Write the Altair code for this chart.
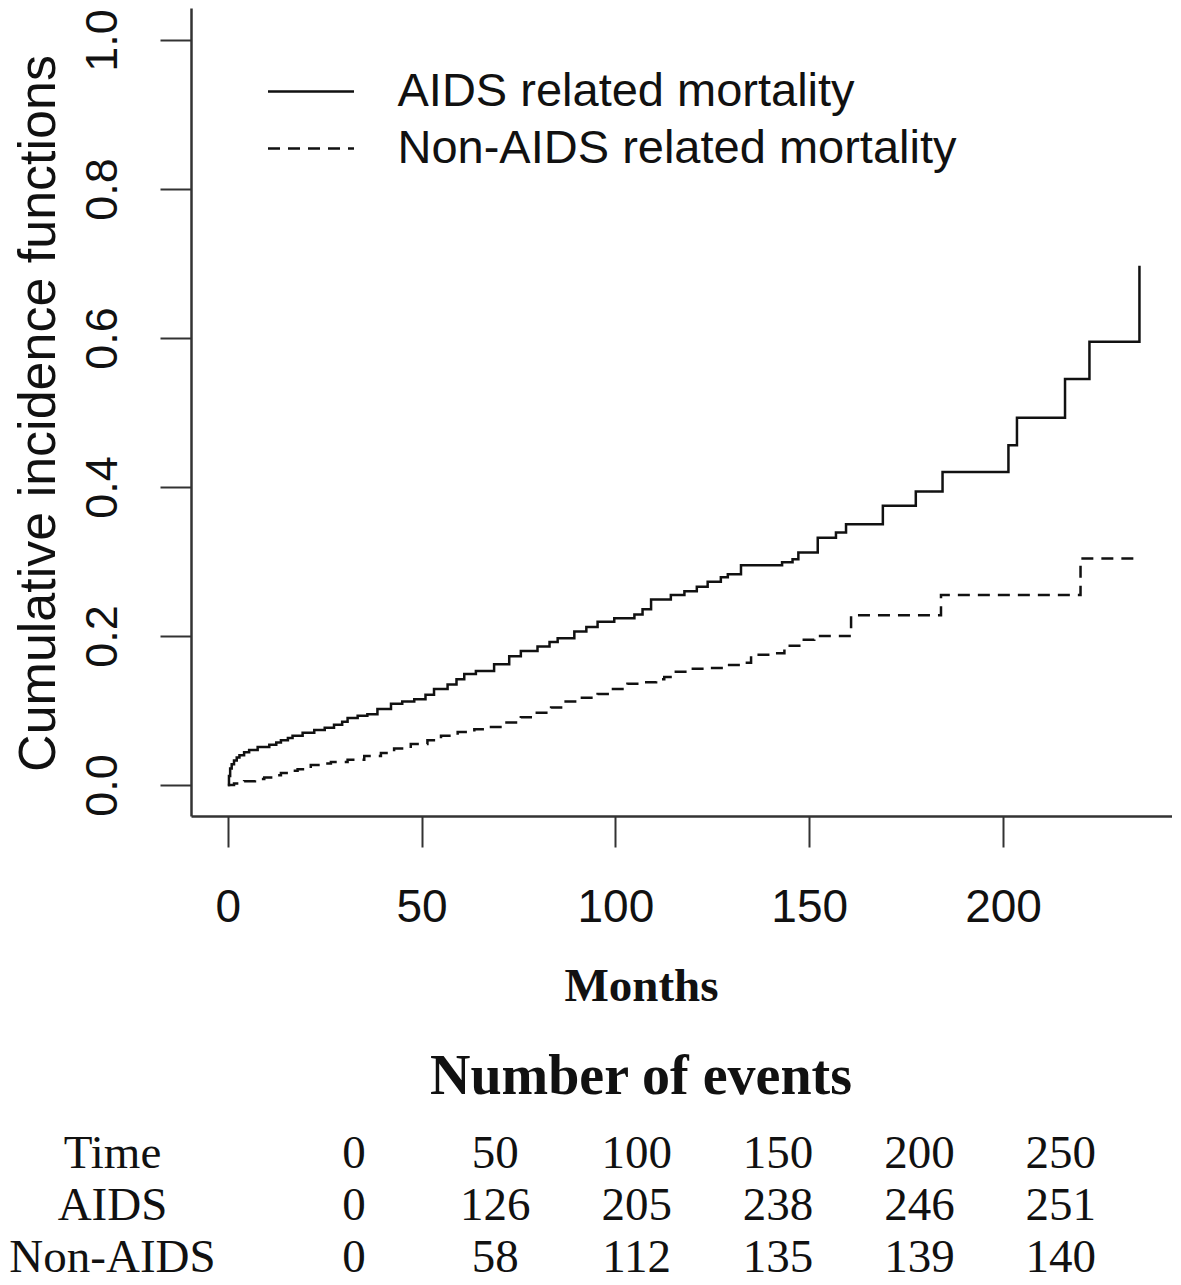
import altair as alt
import pandas as pd

# ---- data ----
series_names = ["AIDS related mortality", "Non-AIDS related mortality"]

aids_time = [0, 0.3, 0.6, 1.0, 1.6, 2.3, 3.0, 4.2, 5.5, 7.7,
             10.7, 12.5, 13.7, 15.5, 16.7, 19.3, 22.3, 25.0, 27.4, 29.5,
             30.9, 33.5, 36.0, 38.6, 42.1, 45.0, 48.1, 51.0, 53.2, 56.7,
             59.0, 61.0, 64.0, 68.7, 72.6, 75.6, 79.9, 83.0, 85.1, 89.4,
             92.5, 95.4, 99.7, 104.9, 107.0, 109.2, 114.3, 117.8, 121.0, 123.8,
             127.2, 129.0, 132.4, 143.0, 145.7, 147.2, 152.2, 156.9, 159.5, 169.0,
             177.5, 184.4, 201.4, 203.6, 216.0, 222.3, 235.2]
aids_cif = [0, 0.012, 0.022, 0.028, 0.033, 0.037, 0.040, 0.044, 0.047, 0.051,
            0.054, 0.057, 0.060, 0.063, 0.066, 0.070, 0.074, 0.077, 0.081, 0.085,
            0.090, 0.093, 0.095, 0.102, 0.109, 0.112, 0.115, 0.121, 0.129, 0.135,
            0.142, 0.149, 0.153, 0.162, 0.173, 0.180, 0.186, 0.192, 0.197, 0.206,
            0.212, 0.219, 0.224, 0.229, 0.236, 0.249, 0.255, 0.260, 0.266, 0.273,
            0.279, 0.283, 0.295, 0.299, 0.303, 0.312, 0.332, 0.339, 0.350, 0.375,
            0.394, 0.420, 0.456, 0.493, 0.545, 0.595, 0.697]

non_time = [0, 1.6, 4.2, 7.0, 9.4, 11.5, 13.7, 16.0, 18.0, 21.4,
            24.0, 26.6, 30.9, 35.2, 39.5, 42.9, 47.2, 51.5, 55.0, 59.3,
            63.6, 67.9, 71.3, 75.6, 79.0, 83.4, 86.8, 91.0, 95.4, 99.0,
            103.1, 107.4, 110.5, 112.6, 115.2, 119.5, 124.6, 128.9, 133.0, 135.0,
            141.0, 143.6, 147.9, 151.3, 160.8, 184.0, 220.0, 235.6]
non_cif = [0, 0.002, 0.005, 0.008, 0.010, 0.013, 0.016, 0.019, 0.021, 0.027,
           0.029, 0.031, 0.034, 0.039, 0.043, 0.049, 0.055, 0.060, 0.066, 0.071,
           0.075, 0.078, 0.084, 0.091, 0.097, 0.104, 0.112, 0.117, 0.122, 0.129,
           0.136, 0.138, 0.142, 0.145, 0.152, 0.156, 0.157, 0.161, 0.164, 0.175,
           0.177, 0.187, 0.195, 0.200, 0.228, 0.255, 0.304, 0.304]

x_ticks = [0, 50, 100, 150, 200]
y_ticks = [0.0, 0.2, 0.4, 0.6, 0.8, 1.0]

table_rows = ["Time", "AIDS", "Non-AIDS"]
time_points = [0, 50, 100, 150, 200, 250]
aids_events = [0, 126, 205, 238, 246, 251]
non_events = [0, 58, 112, 135, 139, 140]

# ---- tables for the library ----
curve_df = pd.DataFrame({
    "month": aids_time + non_time,
    "cif": aids_cif + non_cif,
    "series": [series_names[0]] * len(aids_time) + [series_names[1]] * len(non_time),
    "order": list(range(len(aids_time))) + list(range(len(non_time))),
})

cells = []
for r, vals in zip(table_rows, [time_points, aids_events, non_events]):
    for t, v in zip(time_points, vals):
        cells.append({"row": r, "time": t, "text": str(v)})
table_df = pd.DataFrame(cells)

SANS = "Liberation Sans"
SERIF = "Liberation Serif"
INK = "#111111"
AXIS = "#333333"

W = 981
H = 808

curves = alt.Chart(curve_df).mark_line(
    interpolate="step-after", strokeWidth=2.5, color=INK, strokeCap="butt"
).encode(
    x=alt.X("month:Q",
            scale=alt.Scale(domain=[-9.5, 243.6], nice=False, zero=False),
            axis=alt.Axis(values=x_ticks, title="Months", grid=False,
                          labelFont=SANS, labelFontSize=46, labelColor=INK,
                          labelPadding=38, labelFlush=False, labelOverlap=False,
                          tickSize=31, tickWidth=2, tickColor=AXIS,
                          domainColor=AXIS, domainWidth=2.5,
                          titleFont=SERIF, titleFontWeight="bold", titleFontSize=47,
                          titleColor=INK, titleX=450, titleY=184,
                          titleAlign="center", titleBaseline="alphabetic")),
    y=alt.Y("cif:Q",
            scale=alt.Scale(domain=[-0.0416, 1.043], nice=False, zero=False),
            axis=alt.Axis(values=y_ticks, format=".1f",
                          title="Cumulative incidence functions", grid=False,
                          labelAngle=270, labelAlign="center", labelBaseline="bottom",
                          labelFont=SANS, labelFontSize=45, labelColor=INK,
                          labelPadding=34.5, labelFlush=False, labelOverlap=False,
                          tickSize=31, tickWidth=2, tickColor=AXIS,
                          domainColor=AXIS, domainWidth=2.5,
                          titleAngle=270, titleX=-137, titleY=405,
                          titleAlign="center", titleBaseline="alphabetic",
                          titleFont=SANS, titleFontSize=52, titleFontWeight="normal",
                          titleColor=INK)),
    strokeDash=alt.StrokeDash(
        "series:N",
        scale=alt.Scale(domain=series_names, range=[[1, 0], [12, 8]]),
        legend=alt.Legend(title=None, orient="none", legendX=86, legendY=49.5,
                          symbolType="M-1.323,0H1.323", symbolSize=4225,
                          symbolStrokeWidth=2.5, symbolStrokeColor=INK,
                          symbolFillColor="transparent",
                          labelFont=SANS, labelFontSize=47, labelColor=INK,
                          labelOffset=52.5, labelLimit=0, rowPadding=0,
                          padding=0, offset=0, direction="vertical")),
    order="order:Q",
).properties(width=W, height=H)

table = alt.Chart(table_df).mark_text(
    font=SERIF, fontSize=47, color=INK, align="center", baseline="middle"
).encode(
    x=alt.X("time:Q", scale=alt.Scale(domain=[-57.6, 289.3], nice=False, zero=False),
            axis=None),
    y=alt.Y("row:N", sort=table_rows,
            scale=alt.Scale(type="point", padding=0.5),
            axis=alt.Axis(title=None, domain=False, ticks=False, grid=False,
                          labelFont=SERIF, labelFontSize=47, labelColor=INK,
                          labelAlign="center", labelBaseline="middle",
                          labelPadding=79, labelLimit=0)),
    text="text:N",
).properties(
    width=W, height=156,
    title=alt.TitleParams("Number of events", font=SERIF, fontSize=56,
                          fontWeight="bold", color=INK, anchor="middle",
                          dx=-40.5, dy=61, baseline="alphabetic", offset=39,
                          frame="group"),
)

chart = alt.vconcat(curves, table, spacing=311.8, bounds="flush").properties(
    padding=0, background="white"
).configure_view(stroke=None)

chart.save("out.html", embed_options={"renderer": "svg", "actions": False})
